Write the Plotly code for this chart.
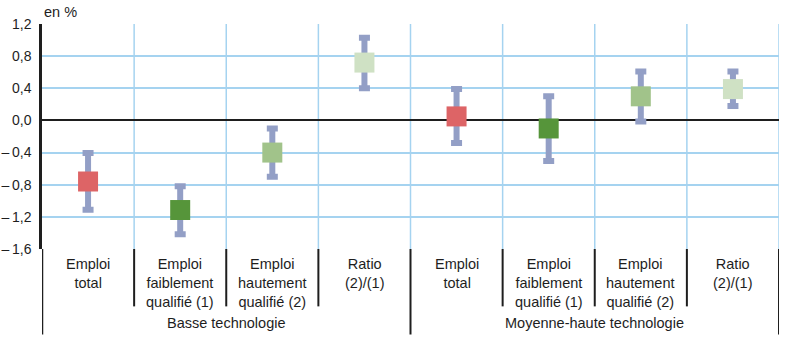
import plotly.graph_objects as go

# Evolution estimates with confidence intervals, by technology group
categories = [
    "Emploi<br>total",
    "Emploi<br>faiblement<br>qualifié (1)",
    "Emploi<br>hautement<br>qualifié (2)",
    "Ratio<br>(2)/(1)",
    "Emploi<br>total",
    "Emploi<br>faiblement<br>qualifié (1)",
    "Emploi<br>hautement<br>qualifié (2)",
    "Ratio<br>(2)/(1)",
]
groups = ["Basse technologie", "Moyenne-haute technologie"]
estimate = [-0.76, -1.115, -0.40, 0.72, 0.05, -0.10, 0.30, 0.39]
upper = [-0.405, -0.82, -0.10, 1.03, 0.39, 0.30, 0.61, 0.61]
lower = [-1.11, -1.415, -0.70, 0.40, -0.28, -0.505, -0.014, 0.18]
point_colors = ["#DD6466", "#56953A", "#A1C38A", "#CFE1C4",
                "#DD6466", "#56953A", "#A1C38A", "#CFE1C4"]
y_ticks = [-1.6, -1.2, -0.8, -0.4, 0.0, 0.4, 0.8, 1.2]

FONT = "Liberation Sans Narrow, Arial Narrow, Liberation Sans, sans-serif"
GRID = "#A5D3F0"
INK = "#1E1E1E"

xs = list(range(len(estimate)))
err_plus = [u - e for u, e in zip(upper, estimate)]
err_minus = [e - l for e, l in zip(estimate, lower)]

fig = go.Figure()
fig.add_trace(go.Scatter(
    x=xs, y=estimate, mode="markers",
    marker=dict(symbol="square", size=20, color=point_colors, line=dict(width=0)),
    error_y=dict(type="data", symmetric=False, array=err_plus, arrayminus=err_minus,
                 color="#939FC6", thickness=6, width=5.5),
    hoverinfo="skip", showlegend=False,
))

def tick_text(v):
    s = f"{abs(v):.1f}".replace(".", ",")
    return ("–\u2009" + s) if v < 0 else s

shapes = []
# vertical grid lines between categories and at the right edge
for b in [i + 0.5 for i in range(len(xs))]:
    shapes.append(dict(type="line", xref="x", yref="y", x0=b, x1=b, y0=-1.6, y1=1.2,
                       line=dict(color=GRID, width=1.5), layer="below"))
# category separators below the plot
for b in [i + 0.5 for i in range(len(xs) - 1)]:
    long_sep = (b == 3.5)
    shapes.append(dict(type="line", xref="x", yref="paper", x0=b, x1=b,
                       y0=0, y1=-0.38 if long_sep else -0.255,
                       line=dict(color=INK, width=2)))
for b in [-0.5, 7.5]:
    shapes.append(dict(type="line", xref="x", yref="paper", x0=b, x1=b, y0=0, y1=-0.38,
                       line=dict(color=INK, width=2.5 if b < 0 else 2)))

annotations = []
for x, label in zip(xs, categories):
    annotations.append(dict(x=x, y=-0.02, xref="x", yref="paper", text=label,
                            showarrow=False, xanchor="center", yanchor="top",
                            font=dict(family=FONT, size=14.5, color=INK)))
for gx, g in zip([1.5, 5.5], groups):
    annotations.append(dict(x=gx, y=-0.33, xref="x", yref="paper", text=g,
                            showarrow=False, xanchor="center", yanchor="middle",
                            font=dict(family=FONT, size=14.5, color=INK)))
annotations.append(dict(x=0, y=1 + (24.3 - 12) / 225, xref="paper", yref="paper",
                        text="en %", showarrow=False, xanchor="left", yanchor="middle",
                        font=dict(family=FONT, size=14.5, color=INK)))

fig.update_layout(
    width=786, height=341,
    margin=dict(l=42, r=7, t=24, b=92),
    paper_bgcolor="white", plot_bgcolor="white",
    xaxis=dict(range=[-0.5, 7.5], showgrid=False, zeroline=False, showline=False,
               showticklabels=False, ticks="", automargin=False),
    yaxis=dict(range=[-1.6, 1.2], tickvals=y_ticks, ticktext=[tick_text(v) for v in y_ticks],
               showgrid=True, gridcolor=GRID, gridwidth=1.5,
               zeroline=True, zerolinecolor=INK, zerolinewidth=2.3,
               showline=True, linecolor=INK, linewidth=2.5,
               ticks="", ticklabelstandoff=5, automargin=False,
               tickfont=dict(family=FONT, size=14, color=INK)),
    shapes=shapes, annotations=annotations,
    font=dict(family=FONT, size=14.5, color=INK),
)

fig.write_html("out.html")
